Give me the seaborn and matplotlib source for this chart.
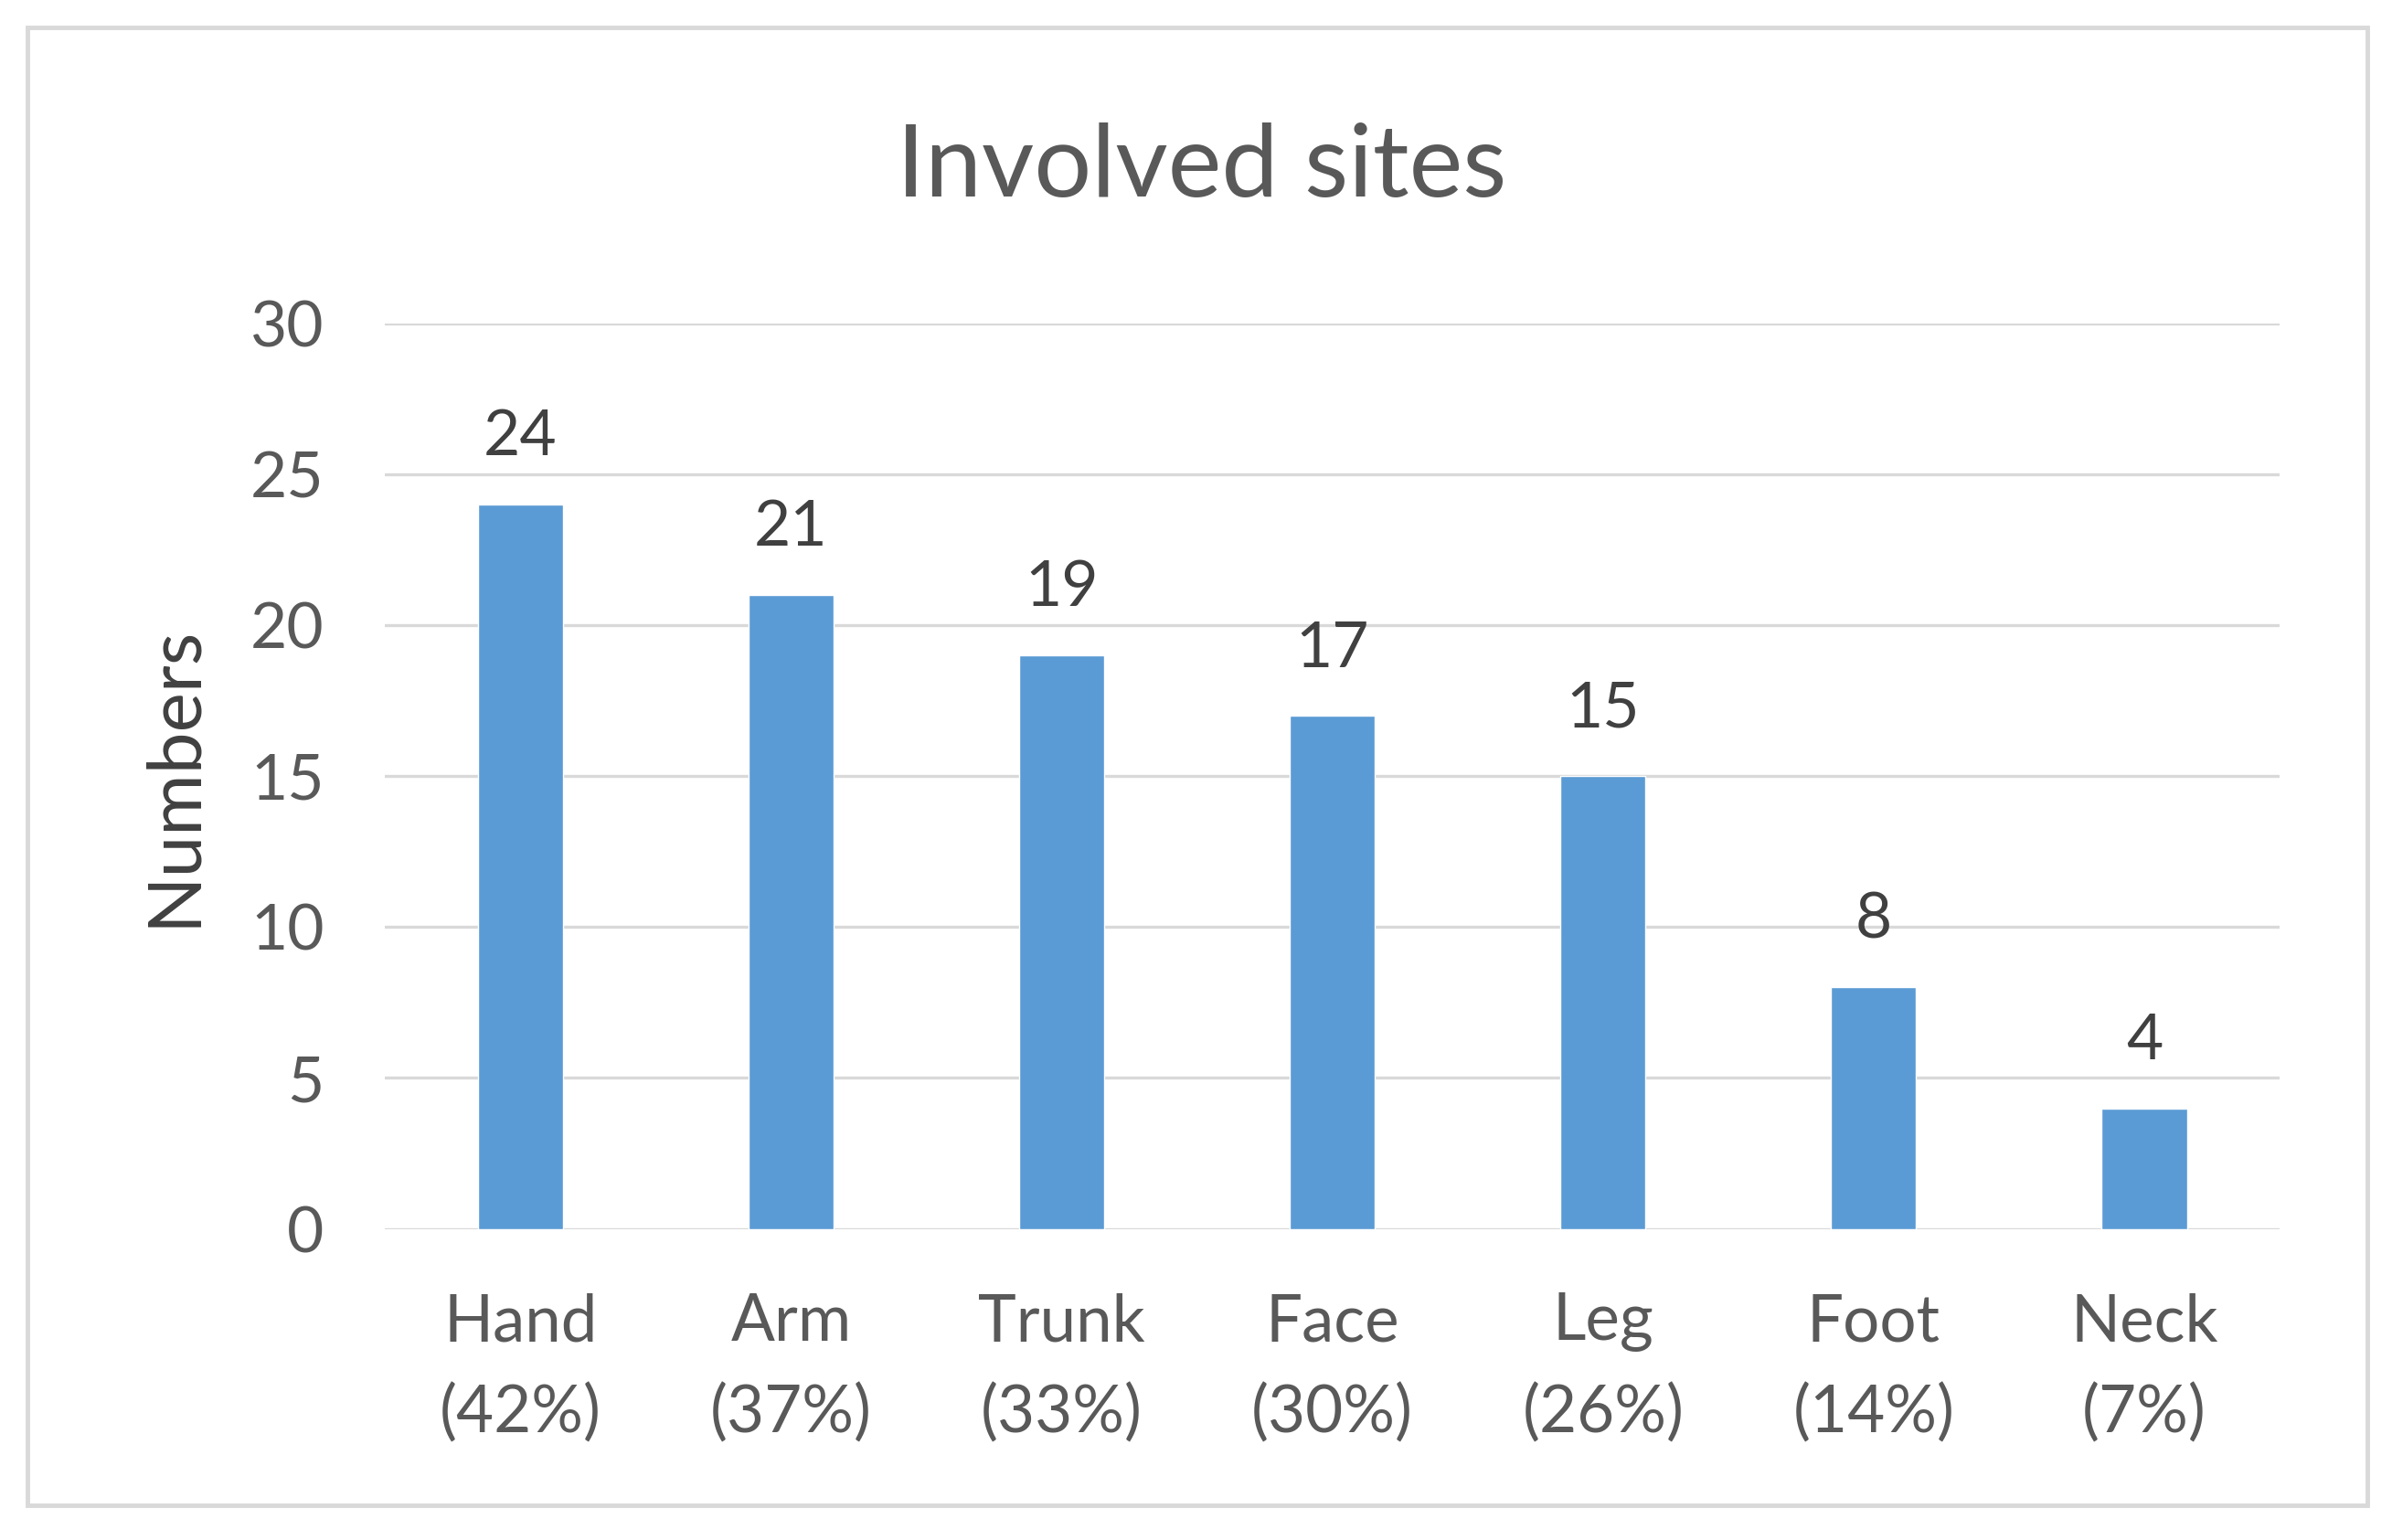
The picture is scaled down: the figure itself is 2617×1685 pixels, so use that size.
import matplotlib
matplotlib.use("Agg")
import matplotlib.pyplot as plt
import matplotlib.patches as mpatches
import seaborn as sns
import pandas as pd

# dati
sites = ["Hand", "Arm", "Trunk", "Face", "Leg", "Foot", "Neck"]
percents = ["42%", "37%", "33%", "30%", "26%", "14%", "7%"]
counts = [24, 21, 19, 17, 15, 8, 4]
y_ticks = [0, 5, 10, 15, 20, 25, 30]

BAR_COLOR = "#5B9BD5"
TEXT_COLOR = "#595959"
GRID_COLOR = "#D9D9D9"

sns.set_theme(style="white")
plt.rcParams['font.family'] = ['Lato', 'DejaVu Sans']

labels = [f"{s}\n({p})" for s, p in zip(sites, percents)]
df = pd.DataFrame({"site": labels, "count": counts})

fig = plt.figure(figsize=(26.17, 16.85), dpi=100)
ax = fig.add_axes([0.161, 0.202, 0.792, 0.588])

sns.barplot(data=df, x="site", y="count", color=BAR_COLOR, width=0.315,
            saturation=1, ax=ax)

ax.set_ylim(0, 30)
ax.set_xlim(-0.5, len(sites) - 0.5)
ax.set_yticks(y_ticks)
for y in y_ticks:
    ax.axhline(y, color=GRID_COLOR, lw=2.4, zorder=0)
sns.despine(ax=ax, left=True, bottom=True)

ax.tick_params(axis="y", labelsize=50, colors=TEXT_COLOR, length=0, pad=48)
ax.tick_params(axis="x", labelsize=51, colors=TEXT_COLOR, length=0, pad=50)
for t in ax.get_xticklabels():
    t.set_linespacing(1.63)

ax.bar_label(ax.containers[0], labels=[str(c) for c in counts],
             fontsize=50, color="#404040", padding=30)

ax.set_xlabel("")
ax.set_ylabel("Numbers", fontsize=59, color="#404040", labelpad=34)
fig.text(0.5025, 0.891, "Involved sites", fontsize=80, color=TEXT_COLOR,
         ha="center", va="center")

# bordo esterno stile Excel
W, H = 2617, 1685
fig.patches.append(mpatches.Rectangle((30 / W, 1 - 1647 / H), 2560 / W, 1617 / H,
                                      transform=fig.transFigure, fill=False,
                                      edgecolor=GRID_COLOR, lw=3.5))

fig.savefig("out.png", dpi=100)
